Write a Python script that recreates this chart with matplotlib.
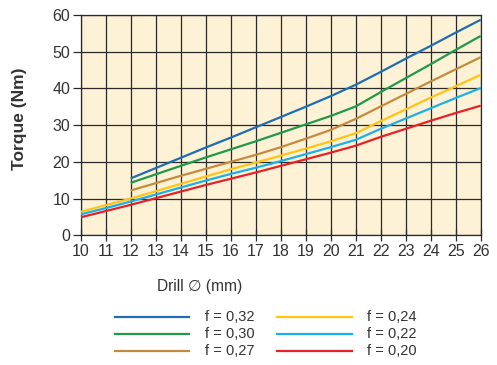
import matplotlib
matplotlib.use("Agg")
import matplotlib.pyplot as plt
from matplotlib.lines import Line2D

plt.rcParams['font.family'] = ['Liberation Sans', 'DejaVu Sans']

x_short = [12, 13, 14, 15, 16, 17, 18, 19, 20, 21, 22, 23, 24, 25, 26]
x_long = [10, 11, 12, 13, 14, 15, 16, 17, 18, 19, 20, 21, 22, 23, 24, 25, 26]

f032 = [15.5, 18.3, 21.1, 23.9, 26.6, 29.4, 32.2, 35.0, 37.9, 41.0, 44.5, 48.1, 51.6, 55.2, 58.7]
f030 = [14.3, 16.6, 18.9, 21.2, 23.4, 25.6, 27.9, 30.2, 32.5, 35.1, 39.0, 42.8, 46.6, 50.5, 54.3]
f027 = [12.2, 14.2, 16.2, 18.1, 20.0, 21.9, 24.0, 26.3, 28.7, 31.7, 35.1, 38.5, 41.9, 45.2, 48.5]
f024 = [6.4, 8.2, 10.0, 12.0, 14.0, 16.0, 18.0, 19.8, 21.7, 23.6, 25.6, 27.8, 31.1, 34.3, 37.5, 40.6, 43.7]
f022 = [5.7, 7.4, 9.2, 11.1, 13.0, 14.9, 16.7, 18.4, 20.2, 22.1, 24.0, 26.0, 29.0, 31.8, 34.6, 37.4, 40.1]
f020 = [4.9, 6.6, 8.3, 10.1, 11.9, 13.7, 15.4, 17.1, 18.9, 20.7, 22.5, 24.4, 26.8, 29.0, 31.2, 33.3, 35.3]

labels = ["f = 0,32", "f = 0,30", "f = 0,27", "f = 0,24", "f = 0,22", "f = 0,20"]
colors = ["#1f6db5", "#1e9a4a", "#c58b3c", "#ffc414", "#1cb0ea", "#e62229"]
series = [(x_short, f032), (x_short, f030), (x_short, f027),
          (x_long, f024), (x_long, f022), (x_long, f020)]

x_ticks = list(range(10, 27))
y_ticks = [0, 10, 20, 30, 40, 50, 60]

W, H = 497, 365
fig = plt.figure(figsize=(W / 100, H / 100), dpi=100)
ax = fig.add_axes([80.7 / W, 1 - 235.3 / H, 400 / W, 220.3 / H])
ax.set_facecolor("#fdf2d5")
ax.set_xlim(10, 26)
ax.set_ylim(0, 60)

ax.set_xticks(x_ticks)
ax.set_yticks(y_ticks)
ax.grid(True, color="#2a2a2a", linewidth=0.9, zorder=1)
ax.set_axisbelow(True)

for (xs, ys), c in zip(series, colors):
    ax.plot(xs, ys, color=c, linewidth=1.6, solid_capstyle='butt', zorder=3)

for s in ax.spines.values():
    s.set_color("#2a2a2a")
    s.set_linewidth(0.9)

ax.tick_params(axis='x', direction='inout', length=9, width=0.9, color="#2a2a2a",
               labelsize=11.5, labelcolor="#333333", pad=2)
ax.tick_params(axis='y', direction='out', length=6, width=0.9, color="#2a2a2a",
               labelsize=11.5, labelcolor="#333333", pad=1.5)

fig.text(20 / W, 1 - 119 / H, "Torque (Nm)", rotation=90, ha='center', va='center',
         fontsize=12.5, fontweight='bold', color="#333333")
fig.text(200 / W, 1 - 287 / H, "Drill \u2205 (mm)", ha='center', va='center',
         fontsize=11.2, color="#333333")

# legend
rows = [316.7, 333.7, 350.7]
cols = [(115, 189, 205), (277, 352, 367)]
for i, (lab, c) in enumerate(zip(labels, colors)):
    col = cols[i // 3]
    yy = 1 - rows[i % 3] / H
    fig.add_artist(Line2D([col[0] / W, col[1] / W], [yy, yy], color=c, linewidth=1.6,
                          transform=fig.transFigure))
    fig.text(col[2] / W, yy, lab, ha='left', va='center', fontsize=10.5, color="#333333")

fig.savefig("out.png", dpi=100)
